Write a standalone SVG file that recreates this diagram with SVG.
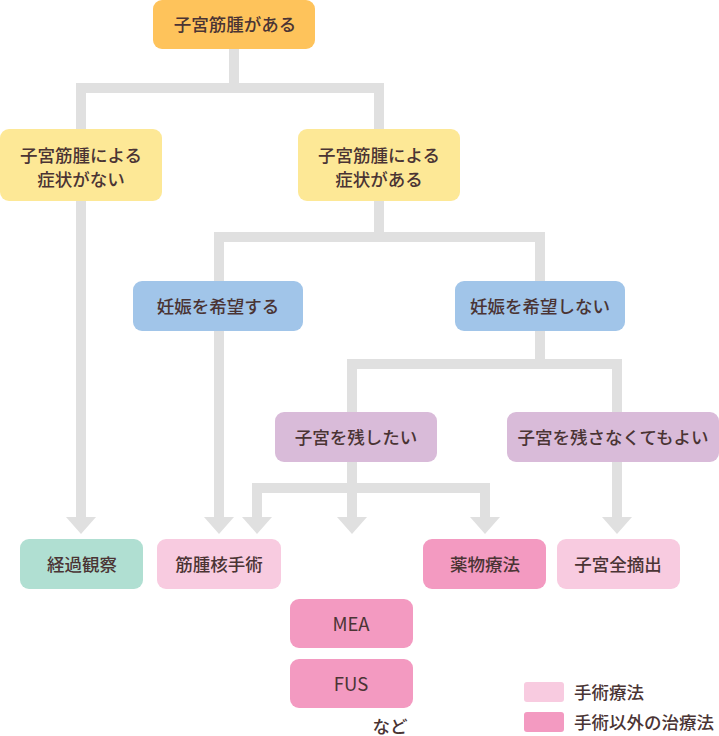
<svg xmlns="http://www.w3.org/2000/svg" width="719" height="736" viewBox="0 0 719 736">
<defs>
<style>
.t{font-family:"Noto Sans CJK JP","Noto Sans",sans-serif;font-size:17.5px;font-weight:500;fill:#4a3434;text-anchor:middle;dominant-baseline:central}
.tl{font-family:"Noto Sans CJK JP","Noto Sans",sans-serif;font-size:17.5px;font-weight:500;fill:#4a3434;dominant-baseline:central}
.lat{font-size:18.5px;font-weight:400}
.c{fill:none;stroke:#e0e0e0;stroke-width:10}
.a{fill:#e0e0e0}
.orange{fill:#fec35b}
.yellow{fill:#fde896}
.blue{fill:#a1c5e9}
.purple{fill:#d9bbd9}
.mint{fill:#b0dfd2}
.lpink{fill:#f8cbe0}
.dpink{fill:#f39ac1}
</style>
</defs>
<rect width="719" height="736" fill="#ffffff"/>
<g id="connectors">
<path class="c" d="M234 49 V88 M76 88 H384 M81 88 V518 M379 88 V129"/>
<path class="c" d="M379 201 V237 M214 237 H545 M219 237 V281 M540 237 V281"/>
<path class="c" d="M219 331 V518"/>
<path class="c" d="M540 331 V364 M347 364 H622 M352 364 V412 M617 364 V412"/>
<path class="c" d="M617 462 V518"/>
<path class="c" d="M352 462 V488 M252 488 H490 M257 488 V518 M352 488 V518 M485 488 V518"/>
<polygon class="a" points="66,517 96,517 81,534"/>
<polygon class="a" points="204,517 234,517 219,534"/>
<polygon class="a" points="242,517 272,517 257,534"/>
<polygon class="a" points="337,517 367,517 352,534"/>
<polygon class="a" points="470,517 500,517 485,534"/>
<polygon class="a" points="602,517 632,517 617,534"/>
</g>
<g id="n-top"><rect class="orange" x="153" y="0" width="162" height="49" rx="9"/><text class="t" x="235" y="23">子宮筋腫がある</text></g>
<g id="n-nosym"><rect class="yellow" x="0" y="129" width="162" height="72" rx="9"/><text class="t" x="81" y="154">子宮筋腫による</text><text class="t" x="81" y="178">症状がない</text></g>
<g id="n-sym"><rect class="yellow" x="298" y="129" width="162" height="72" rx="9"/><text class="t" x="379" y="154">子宮筋腫による</text><text class="t" x="379" y="178">症状がある</text></g>
<g id="n-preg"><rect class="blue" x="133" y="281" width="170" height="50" rx="9"/><text class="t" x="218" y="305">妊娠を希望する</text></g>
<g id="n-nopreg"><rect class="blue" x="455" y="281" width="170" height="50" rx="9"/><text class="t" x="540" y="305">妊娠を希望しない</text></g>
<g id="n-keep"><rect class="purple" x="275" y="412" width="162" height="50" rx="9"/><text class="t" x="356" y="436">子宮を残したい</text></g>
<g id="n-nokeep"><rect class="purple" x="507" y="412" width="212" height="50" rx="9"/><text class="t" x="613" y="436">子宮を残さなくてもよい</text></g>
<g id="n-watch"><rect class="mint" x="20" y="539" width="123" height="50" rx="9"/><text class="t" x="82" y="563">経過観察</text></g>
<g id="n-myomectomy"><rect class="lpink" x="157" y="539" width="124" height="50" rx="9"/><text class="t" x="219" y="563">筋腫核手術</text></g>
<g id="n-drug"><rect class="dpink" x="423" y="539" width="123" height="50" rx="9"/><text class="t" x="485" y="563">薬物療法</text></g>
<g id="n-hyst"><rect class="lpink" x="557" y="539" width="123" height="50" rx="9"/><text class="t" x="618" y="563">子宮全摘出</text></g>
<g id="n-mea"><rect class="dpink" x="290" y="599" width="123" height="49" rx="9"/><text class="t lat" x="351" y="623">MEA</text></g>
<g id="n-fus"><rect class="dpink" x="290" y="659" width="123" height="49" rx="9"/><text class="t lat" x="351" y="683">FUS</text></g>
<text class="t" x="390" y="725">など</text>
<g id="legend">
<rect class="lpink" x="524" y="682" width="40" height="20" rx="3"/>
<text class="tl" x="574" y="691">手術療法</text>
<rect class="dpink" x="524" y="712" width="40" height="20" rx="3"/>
<text class="tl" x="574" y="721">手術以外の治療法</text>
</g>
</svg>
